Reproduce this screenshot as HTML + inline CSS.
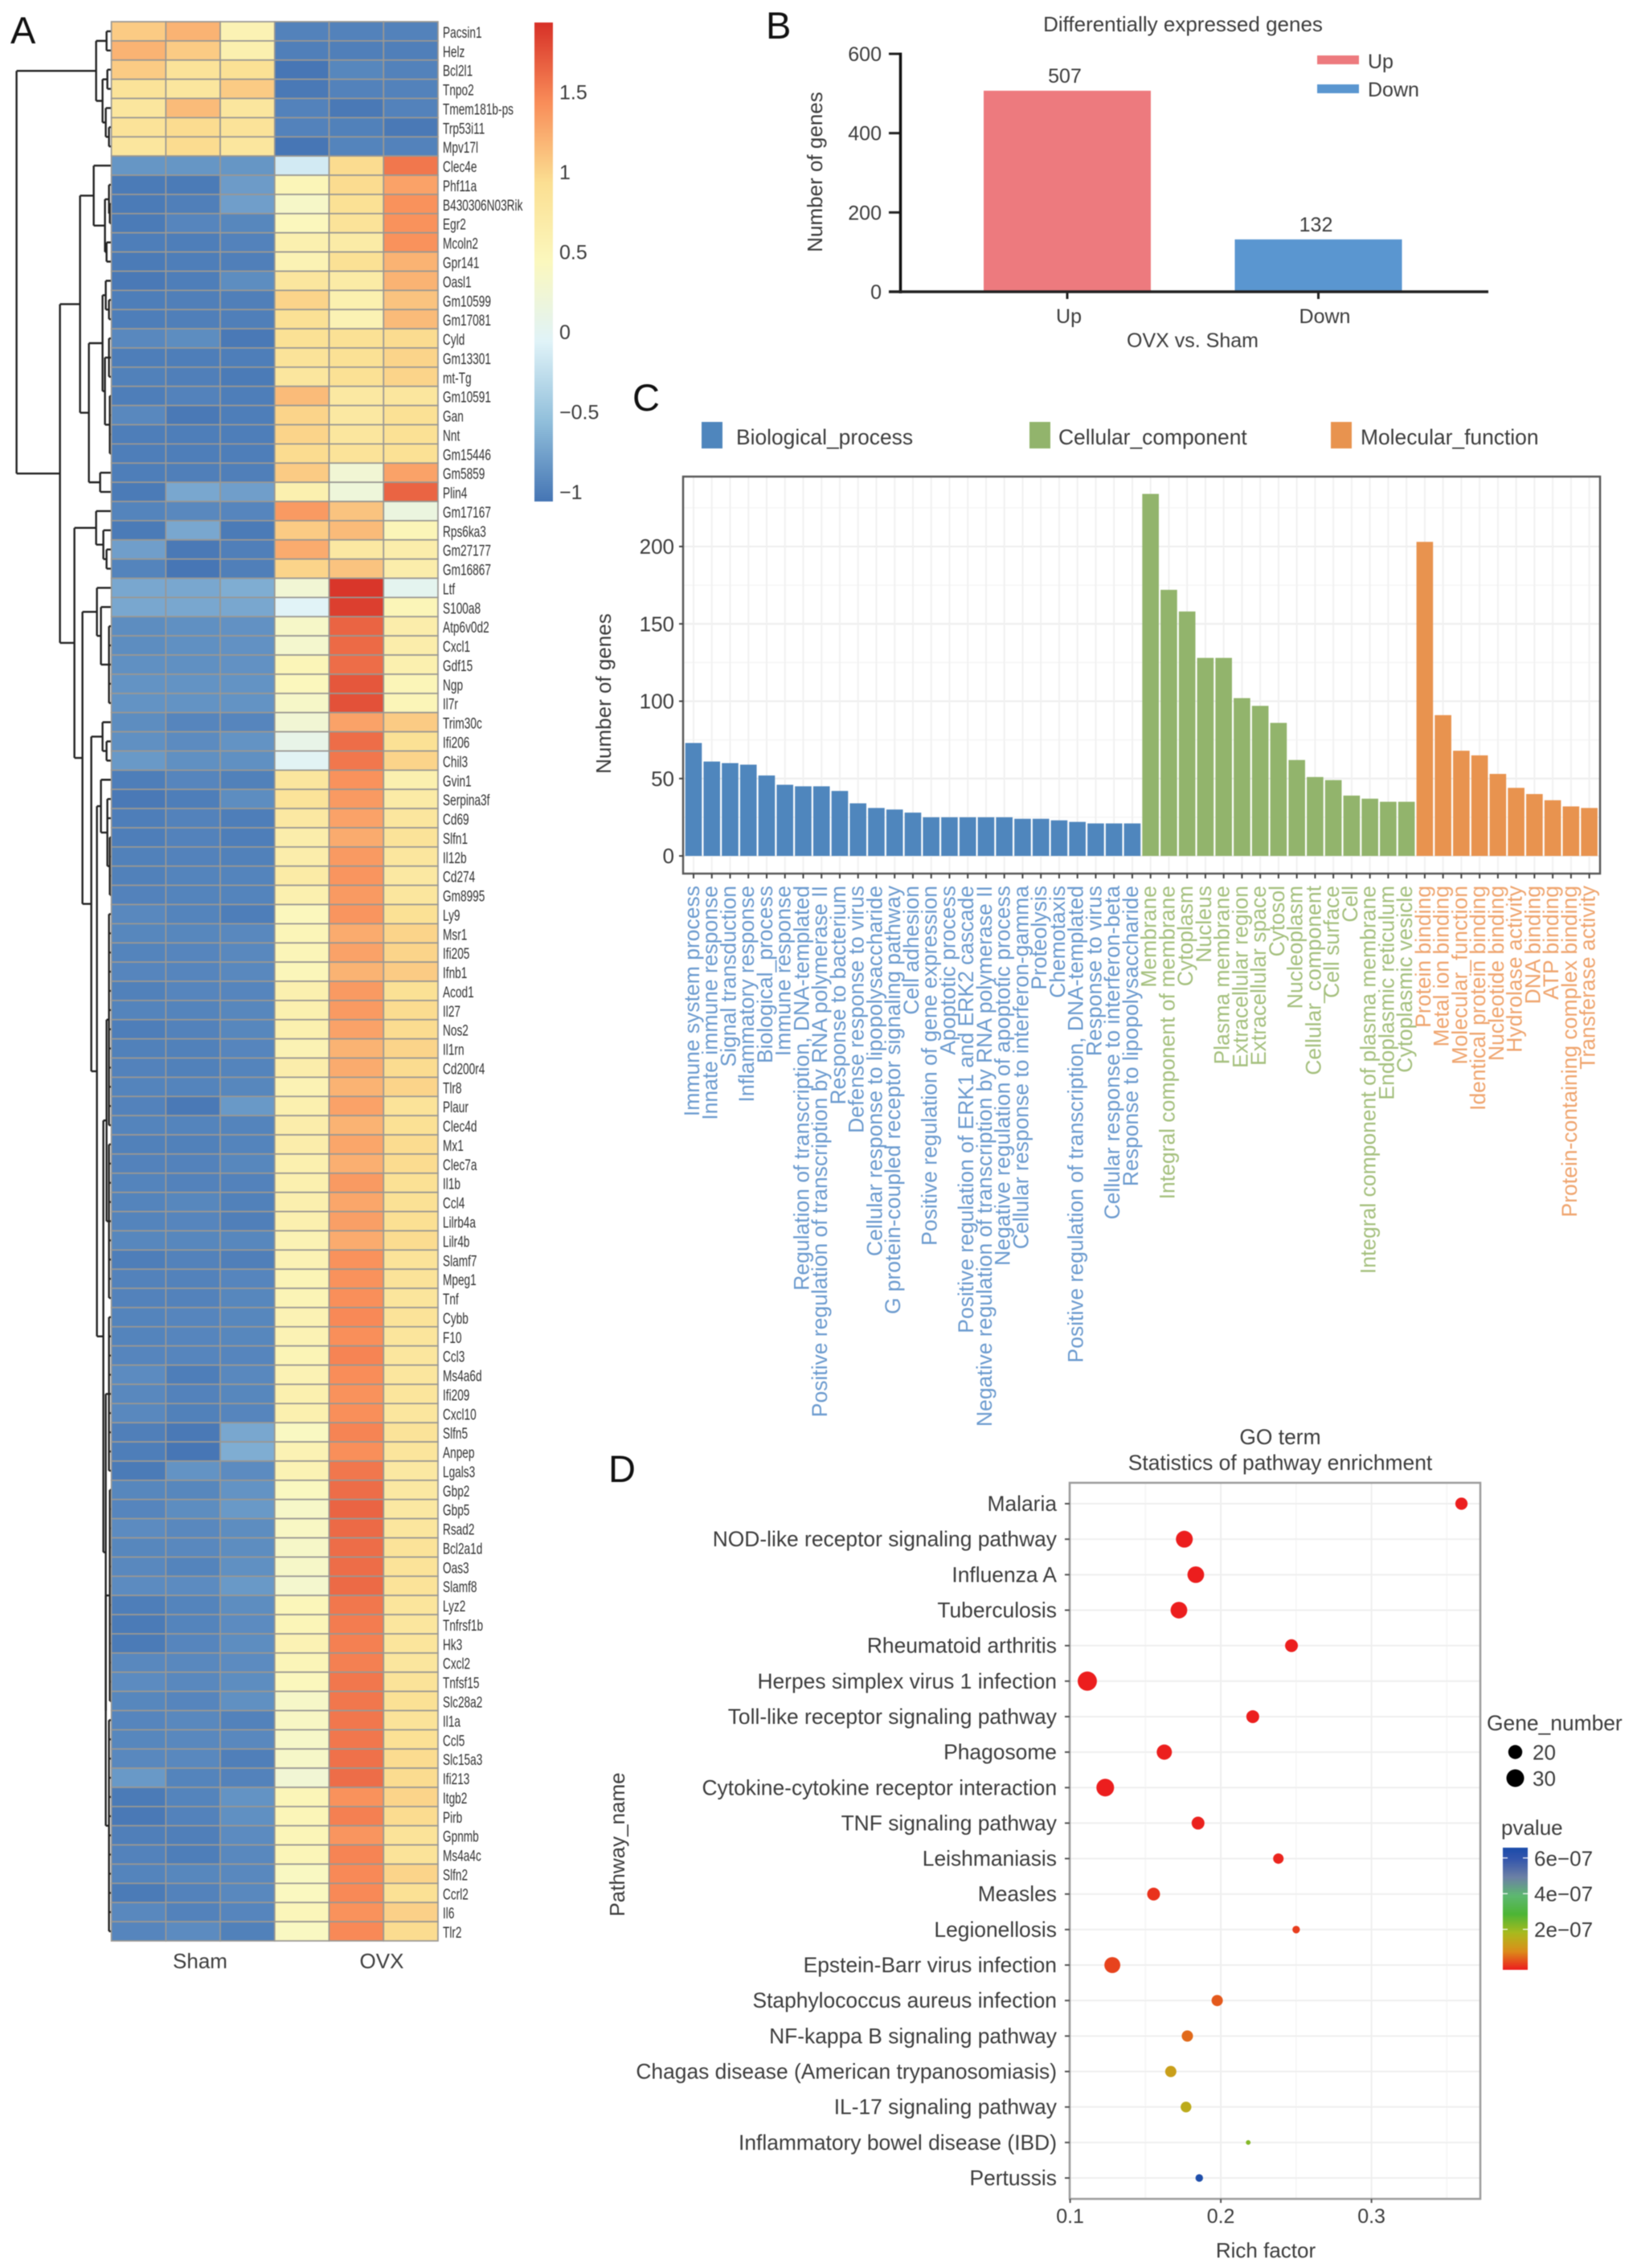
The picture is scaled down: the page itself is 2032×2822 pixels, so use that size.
<!DOCTYPE html>
<html lang="en">
<head>
<meta charset="utf-8">
<title>Differentially expressed genes figure</title>
<style>
html,body{margin:0;padding:0;background:#fff;}
#figure{display:block;width:2032px;height:2822px;filter:blur(0.6px);}
text{font-family:"Liberation Sans",Arial,sans-serif;fill:#3d3d3d;}
.panel-letter{font-size:47px;fill:#111;}
.t25{font-size:25px;}
.t26{font-size:26px;}
.t26b{font-size:26.4px;}
</style>
</head>
<body>
<svg id="figure" xmlns="http://www.w3.org/2000/svg" width="2032" height="2822" viewBox="0 0 2032 2822">
  <defs>
    <linearGradient id="heat-gradient" x1="0" y1="1" x2="0" y2="0"></linearGradient>
    <linearGradient id="p-gradient" x1="0" y1="1" x2="0" y2="0"></linearGradient>
  </defs>
  <rect width="2032" height="2822" fill="#fff"/>

  <!-- Panel A -->
  <g id="panel-a">
    <text class="panel-letter" x="13" y="54">A</text>
    <g id="dendrogram"></g>
    <g id="heat-cells"></g>
    <g id="gene-labels"></g>
    <text class="t26" x="249" y="2449" text-anchor="middle">Sham</text>
    <text class="t26" x="475" y="2449" text-anchor="middle">OVX</text>
    <rect x="665" y="28" width="23" height="596" fill="url(#heat-gradient)"/>
    <g id="heat-legend-ticks"></g>
  </g>

  <!-- Panel B -->
  <g id="panel-b">
    <text class="panel-letter" x="953" y="48">B</text>
    <text class="t26" x="1472" y="39" text-anchor="middle">Differentially expressed genes</text>
    <text class="t26" transform="translate(1023,214) rotate(-90)" text-anchor="middle">Number of genes</text>
    <g id="b-bars"></g>
    <g id="b-axes"></g>
    <text class="t25" x="1484" y="432" text-anchor="middle">OVX vs. Sham</text>
    <rect x="1639" y="69" width="52" height="11" fill="#ED7A7E"/>
    <text class="t25" x="1702" y="85">Up</text>
    <rect x="1639" y="105" width="52" height="11" fill="#5A96D0"/>
    <text class="t25" x="1702" y="120">Down</text>
  </g>

  <!-- Panel C -->
  <g id="panel-c">
    <text class="panel-letter" x="787" y="511">C</text>
    <rect x="873" y="525" width="26" height="33" fill="#4F86BD"/>
    <text class="t26b" x="916" y="553">Biological_process</text>
    <rect x="1281" y="525" width="26" height="33" fill="#92B46C"/>
    <text class="t26b" x="1317" y="553">Cellular_component</text>
    <rect x="1656" y="525" width="26" height="33" fill="#E8934F"/>
    <text class="t26b" x="1693" y="553">Molecular_function</text>
    <text class="t26" transform="translate(760,863) rotate(-90)" text-anchor="middle">Number of genes</text>
    <g id="c-grid"></g>
    <g id="c-bars"></g>
    <rect x="850" y="593" width="1141" height="494" fill="none" stroke="#5a5a5a" stroke-width="2.5"/>
    <g id="c-axes"></g>
  </g>

  <!-- Panel D -->
  <g id="panel-d">
    <text class="panel-letter" x="757" y="1844">D</text>
    <text class="t26b" x="1593" y="1797" text-anchor="middle">GO term</text>
    <text class="t26b" x="1593" y="1829" text-anchor="middle">Statistics of pathway enrichment</text>
    <text class="t26" transform="translate(777,2295) rotate(-90)" text-anchor="middle">Pathway_name</text>
    <g id="d-grid"></g>
    <g id="d-points"></g>
    <rect x="1331" y="1845" width="511" height="891" fill="none" stroke="#9c9c9c" stroke-width="2.5"/>
    <g id="d-axes"></g>
    <text class="t26" x="1575" y="2809" text-anchor="middle">Rich factor</text>
    <text class="t26b" x="1850" y="2153">Gene_number</text>
    <g id="d-size-legend"></g>
    <text class="t26" x="1868" y="2283">pvalue</text>
    <rect x="1870" y="2299" width="31" height="152" fill="url(#p-gradient)"/>
    <g id="d-color-legend"></g>
  </g>
</svg>

<script>
/* ---------- Panel A data ---------- */
const geneLabels = ["Pacsin1","Helz","Bcl2l1","Tnpo2","Tmem181b-ps","Trp53i11","Mpv17l","Clec4e","Phf11a","B430306N03Rik","Egr2","Mcoln2","Gpr141","Oasl1","Gm10599","Gm17081","Cyld","Gm13301","mt-Tg","Gm10591","Gan","Nnt","Gm15446","Gm5859","Plin4","Gm17167","Rps6ka3","Gm27177","Gm16867","Ltf","S100a8","Atp6v0d2","Cxcl1","Gdf15","Ngp","Il7r","Trim30c","Ifi206","Chil3","Gvin1","Serpina3f","Cd69","Slfn1","Il12b","Cd274","Gm8995","Ly9","Msr1","Ifi205","Ifnb1","Acod1","Il27","Nos2","Il1rn","Cd200r4","Tlr8","Plaur","Clec4d","Mx1","Clec7a","Il1b","Ccl4","Lilrb4a","Lilr4b","Slamf7","Mpeg1","Tnf","Cybb","F10","Ccl3","Ms4a6d","Ifi209","Cxcl10","Slfn5","Anpep","Lgals3","Gbp2","Gbp5","Rsad2","Bcl2a1d","Oas3","Slamf8","Lyz2","Tnfrsf1b","Hk3","Cxcl2","Tnfsf15","Slc28a2","Il1a","Ccl5","Slc15a3","Ifi213","Itgb2","Pirb","Gpnmb","Ms4a4c","Slfn2","Ccrl2","Il6","Tlr2"];
const heatValues = [
[1.05,1.2,.55,-.97,-.97,-.97],[1.2,1.05,.6,-.99,-.99,-.99],[1.05,.85,.9,-1.05,-.94,-.97],[.85,.8,1.05,-1.03,-.97,-.97],[.8,1.15,.8,-.97,-1.03,-.97],[.85,.95,.85,-.97,-.98,-1.03],[.8,.95,.8,-1.05,-.96,-.97],
[-.84,-.84,-.84,-.15,.95,1.55],[-1.02,-1.02,-.8,.5,.95,1.3],[-1.02,-.99,-.78,.35,.9,1.4],[-1.02,-.95,-.94,.45,.85,1.4],[-1,-1,-.97,.6,.7,1.4],[-1.02,-1,-.99,.55,.9,1.2],[-1.03,-1,-.9,.8,.7,1.2],[-1,-.99,-.99,1.0,.6,1.1],[-1,-.99,-.99,.9,.55,1.15],[-.93,-.9,-1.03,.9,.9,.95],[-1,-1,-1,.85,.9,1.0],[-.98,-.99,-1.02,.8,.9,1],[-1,-.97,-1,1.15,.75,.8],[-.93,-1.03,-1,1.0,.75,.9],[-1,-1,-1,1.0,.8,.9],[-1,-1,-1,.95,.85,.9],[-1,-.99,-.99,1.05,.25,1.3],[-1.02,-.72,-.78,.6,.2,1.65],
[-.96,-.93,-.95,1.35,1.1,.15],[-1.02,-.72,-1.02,1.05,1.15,.5],[-.78,-1.03,-.99,1.25,.75,.65],[-.96,-1.05,-.99,1.0,1.1,.65],
[-.72,-.72,-.68,.25,1.9,.02],[-.72,-.72,-.72,-.05,1.85,.5],[-.9,-.88,-.87,.35,1.65,.65],[-.9,-.88,-.87,.3,1.62,.65],[-.88,-.88,-.87,.5,1.6,.6],[-.86,-.86,-.86,.45,1.72,.5],[-.86,-.86,-.86,.35,1.75,.5],
[-.9,-.95,-.95,.25,1.3,1.05],[-.88,-.91,-.86,.08,1.6,.9],[-.82,-.88,-.88,-.03,1.55,1],
[-1,-.95,-.98,.8,1.4,.6],[-1.03,-1,-.9,.85,1.35,.7],[-1,-.97,-1,.75,1.3,.8],[-1,-.97,-1,.65,1.25,.85],[-.98,-.97,-.98,.65,1.35,.8],[-.98,-.96,-.96,.7,1.38,.75],[-.97,-.96,-.96,.6,1.35,.8],[-.93,-.96,-1,.45,1.38,.9],[-.94,-.94,-.93,.5,1.25,1.0],[-.96,-.95,-.93,.5,1.3,1],[-.95,-.95,-.93,.48,1.2,1.05],[-.98,-.95,-.95,.6,1.35,.9],[-.96,-.96,-.94,.6,1.35,.95],[-1,-.97,-.94,.6,1.3,.95],[-.98,-.98,-.95,.55,1.2,1],[-.97,-.98,-.96,.65,1.25,.95],[-.96,-.96,-.94,.55,1.2,1],[-.97,-1.03,-.82,.6,1.3,.85],[-.96,-.96,-.96,.65,1.2,.9],[-.98,-.98,-.96,.65,1.28,.95],[-.97,-.97,-.94,.6,1.22,.95],[-.96,-.97,-.97,.6,1.35,.9],[-.96,-.94,-.98,.62,1.28,.9],[-.96,-.95,-.99,.6,1.32,.92],[-.94,-.94,-.94,.55,1.25,.95],[-1,-.97,-.99,.55,1.4,.85],[-.97,-.97,-.95,.52,1.4,.85],[-.97,-.97,-.94,.52,1.42,.82],[-.96,-.95,-.94,.55,1.45,.85],[-.96,-.95,-.94,.55,1.42,.82],[-.95,-.95,-.95,.52,1.48,.8],[-.91,-1,-.93,.55,1.43,.8],[-.93,-.97,-.94,.6,1.4,.82],[-.93,-.98,-.95,.6,1.42,.8],[-.99,-1.03,-.72,.4,1.48,.85],[-1,-1.05,-.68,.55,1.42,.82],[-1.02,-.86,-.91,.55,1.55,.75],[-.94,-.94,-.86,.42,1.6,.75],[-.95,-.9,-.82,.35,1.65,.75],[-.91,-.93,-.9,.38,1.62,.8],[-.94,-.93,-.9,.35,1.6,.85],[-.93,-.96,-.88,.35,1.6,.85],[-.91,-.91,-.82,.3,1.62,.85],[-1,-.96,-.9,.48,1.55,.82],[-1.02,-.96,-.91,.5,1.52,.8],[-1.02,-.95,-.9,.55,1.5,.82],[-.93,-.93,-.91,.5,1.5,.8],[-.91,-.93,-.9,.45,1.55,.85],[-.94,-.95,-.88,.35,1.55,.9],[-.95,-.93,-.97,.38,1.55,.85],[-.94,-.93,-.93,.35,1.55,.9],[-.93,-.93,-.99,.35,1.58,.95],[-.82,-.96,-.97,.25,1.6,.95],[-1.02,-.96,-.86,.5,1.4,1],[-1.03,-.97,-.88,.5,1.5,.95],[-.99,-.99,-.91,.5,1.38,.85],[-.97,-1,-.93,.5,1.48,.85],[-.96,-.94,-.93,.4,1.45,1],[-1.02,-.97,-.93,.42,1.45,.9],[-.93,-.97,-.95,.48,1.4,1.02],[-.95,-.91,-.98,.4,1.45,.95]
];
const heatTickValues = [1.5,1,0.5,0,-0.5,-1];
const heatTickLabels = ["1.5","1","0.5","0","\u22120.5","\u22121"];
const heatColorValues = [-1.06,-.56,-.06,.435,.93,1.43,1.93];
const heatColorHex = ["#4575B4","#91BFDB","#E0F3F8","#FBF8BE","#FBDF92","#F98D59","#D73027"];
/* tree nodes: [height, child, child, ...]; a number child is a row index */
const seq = (a, b) => { const o = []; for (let i = a; i <= b; i++) o.push(i); return o; };
const dendrogramTree = [118,
  [19,[6,0,1],[11,[5,2,3],[7,4,[3,5,6]]]],
  [64,
    [39,
      [22,7,[8,[3,8,[2,9,10]],[6,11,12]]],
      [28,
        [11,[7,13,[3,14,15]],[8,[3,16,17,18],[2,19,20,21,22]]],
        [14,23,24]]],
    [46,
      [19,25,[10,26,[6,27,28]]],
      [36,
        [18,29,[13,30,[3,31,32,33,34,35]]],
        [25,
          [11,36,[6,37,38]],
          [18,
            [13,39,[5,40,41,[2,42,43,44,45]]],
            [10,
              [6,[3,...seq(46,57)],[3,...seq(58,66)]],
              [7,[3,...seq(67,75)],[7,[2,...seq(76,87)],[3,...seq(88,99)]]]]]]]]]];

/* ---------- Panel B data ---------- */
const degCategories = ["Up","Down"];
const degCounts = [507,132];
const degColors = ["#ED7A7E","#5A96D0"];
const degTicks = [0,200,400,600];

/* ---------- Panel C data ---------- */
const bioLabels = ["Immune system process","Innate immune response","Signal transduction","Inflammatory response","Biological_process","Immune response","Regulation of transcription, DNA-templated","Positive regulation of transcription by RNA polymerase II","Response to bacterium","Defense response to virus","Cellular response to lipopolysaccharide","G protein-coupled receptor signaling pathway","Cell adhesion","Positive regulation of gene expression","Apoptotic process","Positive regulation of ERK1 and ERK2 cascade","Negative regulation of transcription by RNA polymerase II","Negative regulation of apoptotic process","Cellular response to interferon-gamma","Proteolysis","Chemotaxis","Positive regulation of transcription, DNA-templated","Response to virus","Cellular response to interferon-beta","Response to lipopolysaccharide"];
const bioCounts = [73,61,60,59,52,46,45,45,42,34,31,30,28,25,25,25,25,25,24,24,23,22,21,21,21];
const cellLabels = ["Membrane","Integral component of membrane","Cytoplasm","Nucleus","Plasma membrane","Extracellular region","Extracellular space","Cytosol","Nucleoplasm","Cellular_component","Cell surface","Cell","Integral component of plasma membrane","Endoplasmic reticulum","Cytoplasmic vesicle"];
const cellCounts = [234,172,158,128,128,102,97,86,62,51,49,39,37,35,35];
const molLabels = ["Protein binding","Metal ion binding","Molecular_function","Identical protein binding","Nucleotide binding","Hydrolase activity","DNA binding","ATP binding","Protein-containing complex binding","Transferase activity"];
const molCounts = [203,91,68,65,53,44,40,36,32,31];
const goTicks = [0,50,100,150,200];
const goMinorTicks = [25,75,125,175,225];

/* ---------- Panel D data ---------- */
const pathwayNames = ["Malaria","NOD-like receptor signaling pathway","Influenza A","Tuberculosis","Rheumatoid arthritis","Herpes simplex virus 1 infection","Toll-like receptor signaling pathway","Phagosome","Cytokine-cytokine receptor interaction","TNF signaling pathway","Leishmaniasis","Measles","Legionellosis","Epstein-Barr virus infection","Staphylococcus aureus infection","NF-kappa B signaling pathway","Chagas disease (American trypanosomiasis)","IL-17 signaling pathway","Inflammatory bowel disease (IBD)","Pertussis"];
const richFactors = [.3597,.1758,.1834,.1722,.2469,.1114,.2212,.1625,.1233,.1849,.2382,.1554,.25,.128,.1976,.1778,.1668,.1769,.2182,.1857];
const geneNumbers = [16,27.6,27,27,17.3,35,17.3,23,30,17.3,12.5,17.3,8,25,14,14,14,13,5,8];
const pValues = [.02e-7,.02e-7,.02e-7,.02e-7,.03e-7,.02e-7,.03e-7,.03e-7,.02e-7,.05e-7,.08e-7,.2e-7,.3e-7,.35e-7,.55e-7,.7e-7,1.4e-7,1.65e-7,2.4e-7,6.5e-7];
const richTicks = [0.1,0.2,0.3];
const richMinorTicks = [0.15,0.25,0.35];
const sizeLegendValues = [20,30];
const pTickValues = [6e-7,4e-7,2e-7];
const pTickLabels = ["6e\u221207","4e\u221207","2e\u221207"];
const pColorValues = [0,.5e-7,1e-7,1.5e-7,2e-7,3e-7,4e-7,5e-7,6e-7,6.6e-7];
const pColorHex = ["#EC1C1E","#E5531C","#DB8C1A","#C4A41A","#A8BA1E","#4DB535","#5DB870","#6C80A5","#3355AC","#1B4CAA"];

/* ---------- helpers ---------- */
const NS = 'http://www.w3.org/2000/svg';
function add(parent, tag, attrs, text) {
  const node = document.createElementNS(NS, tag);
  for (const k in attrs) node.setAttribute(k, attrs[k]);
  if (text !== undefined) node.textContent = text;
  parent.appendChild(node);
  return node;
}
const $ = id => document.getElementById(id);
const hexRgb = h => [1,3,5].map(i => parseInt(h.substr(i,2),16));
function ramp(vals, hexes, v) {
  if (v <= vals[0]) return hexes[0];
  for (let i = 1; i < vals.length; i++) {
    if (v <= vals[i]) {
      const t = (v - vals[i-1]) / (vals[i] - vals[i-1]);
      const a = hexRgb(hexes[i-1]), b = hexRgb(hexes[i]);
      return 'rgb(' + a.map((c,j) => Math.round(c + (b[j]-c)*t)).join(',') + ')';
    }
  }
  return hexes[hexes.length-1];
}
function fillGradient(id, vals, hexes) {
  const g = $(id), lo = vals[0], hi = vals[vals.length-1];
  vals.forEach((v,i) => {
    add(g, 'stop', {offset: (v-lo)/(hi-lo), 'stop-color': hexes[i]});
  });
}

/* ---------- Panel A ---------- */
const heatLeft = 138.6, heatRight = 545, heatTop = 27, heatBottom = 2415;
const heatColW = (heatRight - heatLeft) / 6;
const heatRowH = (heatBottom - heatTop) / geneLabels.length;
const heatRowY = i => heatTop + i * heatRowH;
const heatColX = j => heatLeft + j * heatColW;
const dendroX = h => heatLeft - h;
const heatLegendY = v => 612 - (v + 1) * 199;

fillGradient('heat-gradient', heatColorValues, heatColorHex);

heatValues.forEach((row, i) => {
  row.forEach((v, j) => {
    const cell = add($('heat-cells'), 'rect', {x: heatColX(j), y: heatRowY(i), width: heatColW, height: heatRowH, fill: ramp(heatColorValues, heatColorHex, v), stroke: '#9a9893', 'stroke-width': 1.7});
    
    
  });
  const y = heatRowY(i) + heatRowH / 2 + 8;
  const label = add($('gene-labels'), 'text', {transform: 'translate(551,' + y + ') scale(0.7,1)', 'font-size': 19.5, style: 'fill:#333'}, geneLabels[i]);
  
  
});

function drawNode(node) {
  if (typeof node === 'number') return {x: heatLeft, y: heatRowY(node) + heatRowH / 2};
  const kids = node.slice(1).map(drawNode);
  const x = dendroX(node[0]);
  const first = kids[0].y, last = kids[kids.length-1].y;
  let d = 'M' + x + ' ' + first + 'V' + last;
  kids.forEach(k => { d += 'M' + x + ' ' + k.y + 'H' + k.x; });
  const branch = add($('dendrogram'), 'path', {d: d, fill: 'none', stroke: '#222', 'stroke-width': 2.4});
  
  
  return {x: x, y: (first + last) / 2};
}
const dendroRoot = drawNode(dendrogramTree);

heatTickValues.forEach((v, i) => {
  const t = add($('heat-legend-ticks'), 'text', {x: 696, y: heatLegendY(v) + 9, 'font-size': 25}, heatTickLabels[i]);
  
  
});

/* ---------- Panel B ---------- */
const bY = v => 363 - v * (296 / 600);
const bCenters = i => 1328 + i * 312.5;
const bBarW = 208;

degCounts.forEach((v, i) => {
  const bar = add($('b-bars'), 'rect', {x: bCenters(i) - bBarW / 2, y: bY(v), width: bBarW, height: bY(0) - bY(v), fill: degColors[i]});
  
  
  const val = add($('b-bars'), 'text', {x: bCenters(i) - 3, y: bY(v) - 10, 'text-anchor': 'middle', 'font-size': 25}, String(v));
  
  
  const tick = add($('b-axes'), 'line', {x1: bCenters(i), x2: bCenters(i), y1: 363, y2: 372, stroke: '#222', 'stroke-width': 3});
  
  
  const lab = add($('b-axes'), 'text', {x: bCenters(i) + 2 + i * 6, y: 402, 'text-anchor': 'middle', 'font-size': 25}, degCategories[i]);
  
  
});
degTicks.forEach(v => {
  const tick = add($('b-axes'), 'line', {x1: 1106, x2: 1121, y1: bY(v), y2: bY(v), stroke: '#222', 'stroke-width': 3});
  
  
  const lab = add($('b-axes'), 'text', {x: 1097, y: bY(v) + 9, 'text-anchor': 'end', 'font-size': 25}, String(v));
  
  
});
const bYAxis = add($('b-axes'), 'line', {x1: 1120.5, x2: 1120.5, y1: bY(600) - 1.5, y2: 365, stroke: '#111', 'stroke-width': 3.5});


const bXAxis = add($('b-axes'), 'line', {x1: 1106, x2: 1852, y1: 363, y2: 363, stroke: '#222', 'stroke-width': 3.5});



/* ---------- Panel C ---------- */
const goGroups = [
  {labels: bioLabels, counts: bioCounts, bar: '#4F86BD', text: '#6C9BCF', name: 'biological-process'},
  {labels: cellLabels, counts: cellCounts, bar: '#92B46C', text: '#A5C07E', name: 'cellular-component'},
  {labels: molLabels, counts: molCounts, bar: '#E8934F', text: '#EFA56F', name: 'molecular-function'}
];
const goTotal = goGroups.reduce((s, g) => s + g.counts.length, 0);
const cX = i => 863 + i * (1977.6 - 863) / (goTotal - 1);
const cY = v => 1065 - v * 1.925;
const cBarW = 20.6;

goMinorTicks.forEach(v => {
  const g = add($('c-grid'), 'line', {x1: 850, x2: 1991, y1: cY(v), y2: cY(v), stroke: '#f6f6f6', 'stroke-width': 1.5});
  
  
});
goTicks.forEach(v => {
  const g = add($('c-grid'), 'line', {x1: 850, x2: 1991, y1: cY(v), y2: cY(v), stroke: '#eeeeee', 'stroke-width': 2});
  
  
  const tick = add($('c-axes'), 'line', {x1: 845, x2: 850, y1: cY(v), y2: cY(v), stroke: '#444', 'stroke-width': 2});
  
  
  const lab = add($('c-axes'), 'text', {x: 839, y: cY(v) + 9, 'text-anchor': 'end', 'font-size': 26}, String(v));
  
  
});
let goIndex = 0;
goGroups.forEach(group => {
  group.counts.forEach((v, k) => {
    const cx = cX(goIndex);
    const grid = add($('c-grid'), 'line', {x1: cx, x2: cx, y1: 593, y2: 1087, stroke: '#f1f1f1', 'stroke-width': 2});
    
    
    const bar = add($('c-bars'), 'rect', {x: cx - cBarW / 2, y: cY(v), width: cBarW, height: cY(0) - cY(v), fill: group.bar});
    
    
    const tick = add($('c-axes'), 'line', {x1: cx, x2: cx, y1: 1087, y2: 1093, stroke: '#444', 'stroke-width': 2});
    
    
    const lab = add($('c-axes'), 'text', {transform: 'translate(' + (cx + 7) + ',1102) rotate(-90)', 'text-anchor': 'end', 'font-size': 26.5, style: 'fill:' + group.text}, group.labels[k]);
    
    
    goIndex++;
  });
});

/* ---------- Panel D ---------- */
const dX = v => 1331.6 + (v - 0.1) * 1875;
const dY = i => 1871 + i * (2710 - 1871) / (pathwayNames.length - 1);
const dR = n => Math.sqrt(Math.max(4.5 * n - 14, 1));
const pColor = p => ramp(pColorValues, pColorHex, p);
const pLegendY = p => 2445 - p * 2.22e8;

fillGradient('p-gradient', pColorValues, pColorHex);

richMinorTicks.forEach(v => {
  const g = add($('d-grid'), 'line', {x1: dX(v), x2: dX(v), y1: 1845, y2: 2736, stroke: '#f6f6f6', 'stroke-width': 1.5});
  
  
});
richTicks.forEach(v => {
  const g = add($('d-grid'), 'line', {x1: dX(v), x2: dX(v), y1: 1845, y2: 2736, stroke: '#eeeeee', 'stroke-width': 2});
  
  
  const tick = add($('d-axes'), 'line', {x1: dX(v), x2: dX(v), y1: 2736, y2: 2741, stroke: '#555', 'stroke-width': 2});
  
  
  const lab = add($('d-axes'), 'text', {x: dX(v), y: 2766, 'text-anchor': 'middle', 'font-size': 25}, v.toFixed(1));
  
  
});
pathwayNames.forEach((name, i) => {
  const g = add($('d-grid'), 'line', {x1: 1331, x2: 1842, y1: dY(i), y2: dY(i), stroke: '#efefef', 'stroke-width': 2});
  
  
  const tick = add($('d-axes'), 'line', {x1: 1325, x2: 1331, y1: dY(i), y2: dY(i), stroke: '#555', 'stroke-width': 2});
  
  
  const lab = add($('d-axes'), 'text', {x: 1315, y: dY(i) + 9, 'text-anchor': 'end', 'font-size': 26.4}, name);
  
  
  const pt = add($('d-points'), 'circle', {cx: dX(richFactors[i]), cy: dY(i), r: dR(geneNumbers[i]), fill: pColor(pValues[i])});
  
  
});
sizeLegendValues.forEach((n, i) => {
  const cy = 2180 + i * 32.5;
  const dot = add($('d-size-legend'), 'circle', {cx: 1885.5, cy: cy, r: dR(n), fill: '#000'});
  
  
  const lab = add($('d-size-legend'), 'text', {x: 1907, y: cy + 9.5, 'font-size': 26}, String(n));
  
  
});
pTickValues.forEach((p, i) => {
  const y = pLegendY(p);
  const lab = add($('d-color-legend'), 'text', {x: 1909, y: y + 9.5, 'font-size': 26}, pTickLabels[i]);
  
  
  const tl = add($('d-color-legend'), 'line', {x1: 1870, x2: 1876, y1: y, y2: y, stroke: '#fff', 'stroke-width': 1.2});
  
  
  const tr = add($('d-color-legend'), 'line', {x1: 1895, x2: 1901, y1: y, y2: y, stroke: '#fff', 'stroke-width': 1.2});
  
  
});
</script>
</body>
</html>
